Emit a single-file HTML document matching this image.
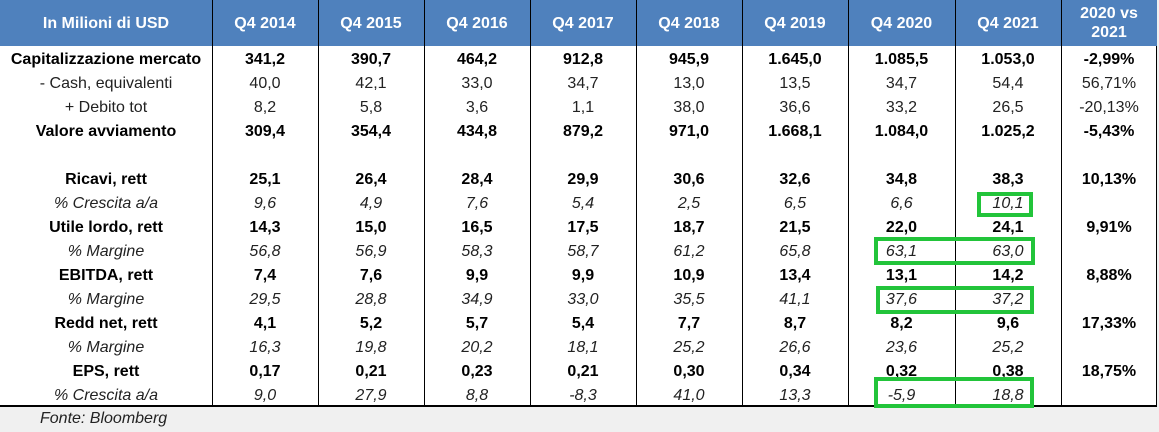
<!DOCTYPE html>
<html><head><meta charset="utf-8"><style>
body{margin:0;width:1159px;height:432px;background:#f0f0f0;overflow:hidden;font-family:"Liberation Sans",Arial,sans-serif;position:relative}
#tbl{position:absolute;left:0;top:0;width:1157px;height:407px;background:#fff;border-right:1px solid #000;border-bottom:2px solid #000;box-sizing:border-box}
#hd{position:absolute;left:0;top:0;width:1157px;height:46px;background:#4f81bd}
.v{position:absolute;top:0;height:407px;width:1px;background:#000}
.c{position:absolute;text-align:center;font-size:16px;color:#000;line-height:24px;height:24px;white-space:nowrap}
.h{color:#fff;font-weight:bold;font-size:16px;line-height:19px}
.b{font-weight:bold}.i{font-style:italic;color:#222}.n{color:#222}
.g{position:absolute;border:4px solid #22c43a;box-sizing:border-box}
</style></head><body>
<div id="tbl"><div id="hd"></div></div>
<div id="cells"></div>
<div style="position:absolute;left:40px;top:410px;font-size:16px;font-style:italic;color:#222">Fonte: Bloomberg</div>
<script>
var xs=[0,212,318,424,530,636,742,848,955,1061,1157];
var html='';
for(var k=1;k<10;k++)html+='<div class="v" style="left:'+xs[k]+'px"></div>';
var heads=['In Milioni di USD','Q4 2014','Q4 2015','Q4 2016','Q4 2017','Q4 2018','Q4 2019','Q4 2020','Q4 2021','2020 vs<br>2021'];
heads.forEach(function(t,k){var two=k==9;html+='<div class="c h" style="left:'+xs[k]+'px;width:'+(xs[k+1]-xs[k])+'px;top:'+(two?4:14)+'px;height:auto">'+t+'</div>';});
var rows=[
['b','Capitalizzazione mercato','341,2','390,7','464,2','912,8','945,9','1.645,0','1.085,5','1.053,0','-2,99%'],
['n','- Cash, equivalenti','40,0','42,1','33,0','34,7','13,0','13,5','34,7','54,4','56,71%'],
['n','+ Debito tot','8,2','5,8','3,6','1,1','38,0','36,6','33,2','26,5','-20,13%'],
['b','Valore avviamento','309,4','354,4','434,8','879,2','971,0','1.668,1','1.084,0','1.025,2','-5,43%'],
null,
['b','Ricavi, rett','25,1','26,4','28,4','29,9','30,6','32,6','34,8','38,3','10,13%'],
['i','% Crescita a/a','9,6','4,9','7,6','5,4','2,5','6,5','6,6','10,1',''],
['b','Utile lordo, rett','14,3','15,0','16,5','17,5','18,7','21,5','22,0','24,1','9,91%'],
['i','% Margine','56,8','56,9','58,3','58,7','61,2','65,8','63,1','63,0',''],
['b','EBITDA, rett','7,4','7,6','9,9','9,9','10,9','13,4','13,1','14,2','8,88%'],
['i','% Margine','29,5','28,8','34,9','33,0','35,5','41,1','37,6','37,2',''],
['b','Redd net, rett','4,1','5,2','5,7','5,4','7,7','8,7','8,2','9,6','17,33%'],
['i','% Margine','16,3','19,8','20,2','18,1','25,2','26,6','23,6','25,2',''],
['b','EPS, rett','0,17','0,21','0,23','0,21','0,30','0,34','0,32','0,38','18,75%'],
['i','% Crescita a/a','9,0','27,9','8,8','-8,3','41,0','13,3','-5,9','18,8','']];
rows.forEach(function(r,i){if(!r)return;var y=48+i*24;
for(var k=1;k<r.length;k++){var cls=r[0];if(k==10)cls=(r[0]=='b'?'b':'n');
html+='<div class="c '+cls+'" style="left:'+xs[k-1]+'px;width:'+(xs[k]-xs[k-1])+'px;top:'+y+'px">'+r[k]+'</div>';}});
html+='<div class="g" style="left:977px;top:192px;width:56px;height:25px"></div>';
html+='<div class="g" style="left:874px;top:237px;width:161px;height:28px"></div>';
html+='<div class="g" style="left:876px;top:286px;width:158px;height:28px"></div>';
html+='<div class="g" style="left:874px;top:377px;width:160px;height:31px"></div>';
document.getElementById('cells').innerHTML=html;
</script>
</body></html>
